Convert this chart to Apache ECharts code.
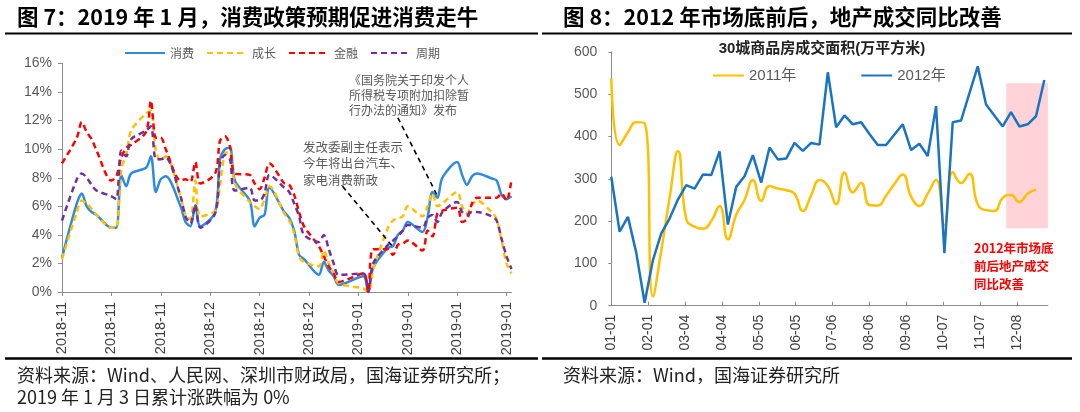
<!DOCTYPE html>
<html><head><meta charset="utf-8">
<script src="https://cdn.jsdelivr.net/npm/echarts@6/dist/echarts.min.js"></script>
<style>html,body{margin:0;padding:0;background:#fff}#c{width:1080px;height:412px}</style>
</head><body><div id="c"></div>
<script>
// ---------- Left chart data (Figure 7) ----------
const tradeDates = [
'2018-11-02','2018-11-05','2018-11-06','2018-11-07','2018-11-08','2018-11-09',
'2018-11-12','2018-11-13','2018-11-14','2018-11-15','2018-11-16',
'2018-11-19','2018-11-20','2018-11-21','2018-11-22','2018-11-23',
'2018-11-26','2018-11-27','2018-11-28','2018-11-29','2018-11-30',
'2018-12-03','2018-12-04','2018-12-05','2018-12-06','2018-12-07',
'2018-12-10','2018-12-11','2018-12-12','2018-12-13','2018-12-14',
'2018-12-17','2018-12-18','2018-12-19','2018-12-20','2018-12-21',
'2018-12-24','2018-12-25','2018-12-26','2018-12-27','2018-12-28',
'2019-01-02','2019-01-03','2019-01-04',
'2019-01-07','2019-01-08','2019-01-09','2019-01-10','2019-01-11',
'2019-01-14','2019-01-15','2019-01-16','2019-01-17','2019-01-18',
'2019-01-21','2019-01-22','2019-01-23','2019-01-24','2019-01-25',
'2019-01-28','2019-01-29','2019-01-30','2019-01-31','2019-02-01'];
const consume = [2.4,6.2,6.9,6.0,5.6,5.4, 4.5,4.5,8.2,7.4,8.3, 8.7,9.5,7.0,7.9,8.1, 6.0,4.9,4.6,6.1,4.6,
  5.6,9.3,10.0,10.1,7.8, 6.4,4.6,5.2,5.4,7.3, 5.6,5.2,4.3,2.6,2.3, 1.2,2.1,1.5,1.1,0.5,
  1.1,0.0,1.7, 3.1,3.2,4.0,4.3,4.9, 4.2,5.2,7.0,6.6,8.0, 9.1,8.2,7.5,8.1,8.3, 7.95,7.8,6.8,6.5,6.7];
const growth = [2.3,5.6,6.4,6.2,5.8,5.4, 4.5,4.5,8.6,9.6,11.3, 12.5,12.7,9.9,9.2,9.5, 6.7,5.4,5.1,7.8,5.3,
  5.7,7.5,9.7,9.8,7.6, 6.3,6.0,5.8,6.5,7.4, 5.5,5.0,4.1,2.5,2.1, 1.8,2.9,2.0,1.3,0.6,
  0.25,0.0,1.6, 4.5,5.0,5.15,5.3,6.0, 5.3,6.0,6.9,6.0,6.2, 7.0,6.0,5.5,6.1,6.4, 5.6,5.1,3.6,2.0,1.3];
const finance = [9.0,10.8,11.9,11.2,10.7,9.9, 7.8,8.1,9.4,10.1,10.3, 11.2,13.4,10.8,10.8,10.0, 7.8,7.9,7.7,9.1,7.6,
  8.3,10.6,10.9,10.2,8.3, 8.2,7.6,7.2,8.0,9.0, 7.6,7.5,6.8,5.6,4.6, 3.2,2.5,1.8,1.3,0.7,
  1.3,0.0,3.0, 3.0,2.6,3.3,3.4,3.6, 2.9,4.3,3.9,5.5,5.7, 5.9,4.9,5.1,6.2,6.6, 6.6,6.6,6.9,6.4,7.9];
const cycle = [5.0,7.9,8.3,8.0,7.5,7.1, 6.7,6.5,9.9,9.5,10.7, 11.3,11.6,9.3,9.3,9.4, 6.7,5.3,4.8,6.1,4.5,
  5.5,9.0,9.6,9.3,7.1, 7.3,6.4,6.4,6.9,8.2, 7.3,7.0,6.2,5.3,4.0, 3.5,4.0,3.0,2.0,1.2,
  1.3,0.0,2.0, 3.3,3.6,3.9,4.3,4.7, 4.5,5.2,5.4,4.9,5.6, 6.3,5.6,5.4,5.6,5.6, 5.3,5.0,3.7,2.5,1.6];
const leftTickDates = ['2018-11-02','2018-11-12','2018-11-22','2018-12-02','2018-12-12','2018-12-22','2019-01-01','2019-01-11','2019-01-21','2019-01-31'];
const leftSeriesNames = ['消费','成长','金融','周期'];
// annotation arrows in data units [dayIndex, percent]
const arrows = [[[68.0,12.2],[75.9,6.8]], [[56.8,7.4],[66.9,3.2]]];

// ---------- Right chart data (Figure 8) ----------
const weekDates = ['01-01','01-08','01-15','01-22','01-29','02-05','02-12','02-19','02-26','03-05','03-12','03-19','03-26',
'04-02','04-09','04-16','04-23','04-30','05-07','05-14','05-21','05-28','06-04','06-11','06-18','06-25',
'07-02','07-09','07-16','07-23','07-30','08-06','08-13','08-20','08-27','09-03','09-10','09-17','09-24',
'10-01','10-08','10-15','10-22','10-29','11-05','11-12','11-19','11-26','12-03','12-10','12-17','12-24','12-31'];
const sales2011 = [538,380,410,434,432,22,130,255,366,205,187,182,200,236,157,215,250,297,248,283,277,273,265,224,261,297,
  283,240,315,268,290,238,237,260,288,310,258,236,265,298,190,316,290,312,240,226,224,255,262,245,265,275];
const sales2012 = [305,175,210,125,7,108,171,206,251,285,277,310,309,365,192,281,306,356,291,374,346,348,385,366,385,381,
  552,422,450,429,434,406,380,380,405,429,368,383,354,472,124,434,438,502,566,476,450,424,458,424,429,448,534];
const rightTickDates = ['01-01','02-01','03-04','04-04','05-05','06-05','07-06','08-06','09-06','10-07','11-07','12-08'];
const rightAxisEnd = '2012-01-03';
const highlightBox = [['2011-11-29',526],['2012-01-07',183]];

// ---------- helpers ----------
const DAY = 86400000;
function dayIdx(base, s){ return Math.round((Date.parse(s+'T00:00:00Z') - Date.parse(base+'T00:00:00Z'))/DAY); }
function fmt(base, d, mode){
  const t = new Date(Date.parse(base+'T00:00:00Z') + Math.round(d)*DAY);
  const y = t.getUTCFullYear(), m = String(t.getUTCMonth()+1).padStart(2,'0'), dd = String(t.getUTCDate()).padStart(2,'0');
  return mode === 'ym' ? y+'-'+m : m+'-'+dd;
}
const LB = tradeDates[0], RB = '2011-01-01';
const pairsL = vals => tradeDates.map((s,i)=>[dayIdx(LB,s), vals[i]]);
const pairsR = vals => vals.map((v,i)=>[dayIdx(RB,'2011-'+weekDates[i]), v]);
const leftTicks = leftTickDates.map(s=>dayIdx(LB,s));
const rightTicks = rightTickDates.map(s=>dayIdx(RB,'2011-'+s));

const SANS = 'Liberation Sans, Noto Sans CJK SC, sans-serif';
const CJK = 'Noto Sans CJK SC, sans-serif';
const axisGray = '#8c8c8c', labelGray = '#595959';
const leftColors = ['#2E8BDF','#FFC000','#FF0000','#7030A0'];
const leftData = [consume, growth, finance, cycle];

const chart = echarts.init(document.getElementById('c'), null, {renderer:'canvas'});

const series = leftSeriesNames.map((n,i)=>({
  name:n, type:'line', xAxisIndex:0, yAxisIndex:0, data:pairsL(leftData[i]),
  symbol:'none', smooth:0.3, animation:false,
  lineStyle:{color:leftColors[i], width:2.5, type: i===0 ? 'solid' : [6,4]},
  itemStyle:{color:leftColors[i]}
}));
series[3].markLine = {
  silent:true, animation:false, symbol:['none','arrow'], symbolSize:[0,13],
  label:{show:false},
  lineStyle:{color:'#000', width:1.6, type:[5,4]},
  data: arrows.map(a=>[{coord:a[0]},{coord:a[1]}])
};
series.push({
  name:'2011年', type:'line', xAxisIndex:1, yAxisIndex:1, data:pairsR(sales2011),
  symbol:'none', smooth:0.5, animation:false,
  lineStyle:{color:'#FFC000', width:2.5}, itemStyle:{color:'#FFC000'},
  markArea:{silent:true, itemStyle:{color:'#FFD3D8'},
    data:[[{coord:[dayIdx(RB,highlightBox[0][0]), highlightBox[0][1]]},{coord:[dayIdx(RB,highlightBox[1][0]), highlightBox[1][1]]}]]}
});
series.push({
  name:'2012年', type:'line', xAxisIndex:1, yAxisIndex:1, data:pairsR(sales2012),
  symbol:'none', smooth:false, animation:false,
  lineStyle:{color:'#1B74C2', width:2.5}, itemStyle:{color:'#1B74C2'}
});

function gtext(x,y,txt,style){ return {type:'text', x:x, y:y, silent:true, style:Object.assign({text:txt, fill:'#111', font:'14px '+CJK, textVerticalAlign:'middle'}, style)}; }
function gline(x1,y1,x2,y2,w){ return {type:'line', silent:true, shape:{x1,y1,x2,y2}, style:{stroke:'#000', lineWidth:w}}; }

const option = {
  backgroundColor:'#fff',
  animation:false,
  grid:[
    {left:62, top:63.5, width:449.5, height:228.5},
    {left:611.3, top:52, width:436.6, height:253.7}
  ],
  xAxis:[
    {type:'value', gridIndex:0, min:0, max:dayIdx(LB,tradeDates[tradeDates.length-1]),
     axisLine:{show:true, lineStyle:{color:axisGray}},
     axisTick:{show:true, length:4, lineStyle:{color:axisGray}, customValues:leftTicks},
     axisLabel:{rotate:90, margin:10, color:'#404040', fontSize:14.5, fontFamily:SANS, customValues:leftTicks,
       formatter:v=>fmt(LB,v,'ym')},
     splitLine:{show:false}},
    {type:'value', gridIndex:1, min:0, max:dayIdx(RB,rightAxisEnd),
     axisLine:{show:true, lineStyle:{color:axisGray}},
     axisTick:{show:true, inside:true, length:4, lineStyle:{color:axisGray}, customValues:rightTicks},
     axisLabel:{rotate:90, margin:9, color:'#404040', fontSize:14, fontFamily:SANS, customValues:rightTicks,
       formatter:v=>fmt(RB,v,'md')},
     splitLine:{show:false}}
  ],
  yAxis:[
    {type:'value', gridIndex:0, min:0, max:16, interval:2,
     axisLine:{show:true, lineStyle:{color:axisGray}},
     axisTick:{show:true, length:4, lineStyle:{color:axisGray}},
     axisLabel:{formatter:'{value}%', color:labelGray, fontSize:14, fontFamily:SANS, margin:10},
     splitLine:{show:false}},
    {type:'value', gridIndex:1, min:0, max:600, interval:100,
     axisLine:{show:true, lineStyle:{color:axisGray}},
     axisTick:{show:true, length:3, lineStyle:{color:axisGray}},
     axisLabel:{color:labelGray, fontSize:14, fontFamily:SANS, margin:14},
     splitLine:{show:false}}
  ],
  legend:[
    {data:leftSeriesNames, left:119, top:42, itemWidth:40, itemHeight:12, itemGap:12,
     itemStyle:{opacity:0},
     textStyle:{color:labelGray, fontSize:12, fontFamily:CJK}, selectedMode:false},
    {data:['2011年','2012年'], left:707, top:63, itemWidth:31, itemHeight:12, itemGap:64,
     itemStyle:{opacity:0},
     textStyle:{color:labelGray, fontSize:15, fontFamily:SANS}, selectedMode:false}
  ],
  series: series,
  graphic:[
    gtext(17,17,'图 7：2019 年 1 月，消费政策预期促进消费走牛',{font:'bold 21.5px '+CJK, fill:'#000'}),
    gtext(563,17,'图 8：2012 年市场底前后，地产成交同比改善',{font:'bold 21.5px '+CJK, fill:'#000'}),
    gline(5,33.5,538,33.5,2),
    gline(542,33.5,1072,33.5,2),
    gline(5,358.5,538,358.5,2.5),
    gline(542,358.5,1072,358.5,2.5),
    gtext(822,49,'30城商品房成交面积(万平方米)',{font:'bold 15px '+SANS, fill:'#222', textAlign:'center'}),
    gtext(349,80,'《国务院关于印发个人',{font:'12px '+CJK, fill:labelGray}),
    gtext(349,95,'所得税专项附加扣除暂',{font:'12px '+CJK, fill:labelGray}),
    gtext(349,110,'行办法的通知》发布',{font:'12px '+CJK, fill:labelGray}),
    gtext(303,147,'发改委副主任表示',{font:'12.5px '+CJK, fill:labelGray}),
    gtext(303,163.5,'今年将出台汽车、',{font:'12.5px '+CJK, fill:labelGray}),
    gtext(303,180,'家电消费新政',{font:'12.5px '+CJK, fill:labelGray}),
    gtext(974,248,'2012年市场底',{font:'bold 12.5px '+CJK, fill:'#FF0000'}),
    gtext(974,266.5,'前后地产成交',{font:'bold 12.5px '+CJK, fill:'#FF0000'}),
    gtext(974,284,'同比改善',{font:'bold 12.5px '+CJK, fill:'#FF0000'}),
    gtext(17,375,'资料来源：Wind、人民网、深圳市财政局，国海证券研究所；',{font:'18px '+CJK, fill:'#222'}),
    gtext(17,397,'2019 年 1 月 3 日累计涨跌幅为 0%',{font:'18px '+CJK, fill:'#222'}),
    gtext(563,375,'资料来源：Wind，国海证券研究所',{font:'18px '+CJK, fill:'#222'})
  ]
};
chart.setOption(option);
</script>
</body></html>
